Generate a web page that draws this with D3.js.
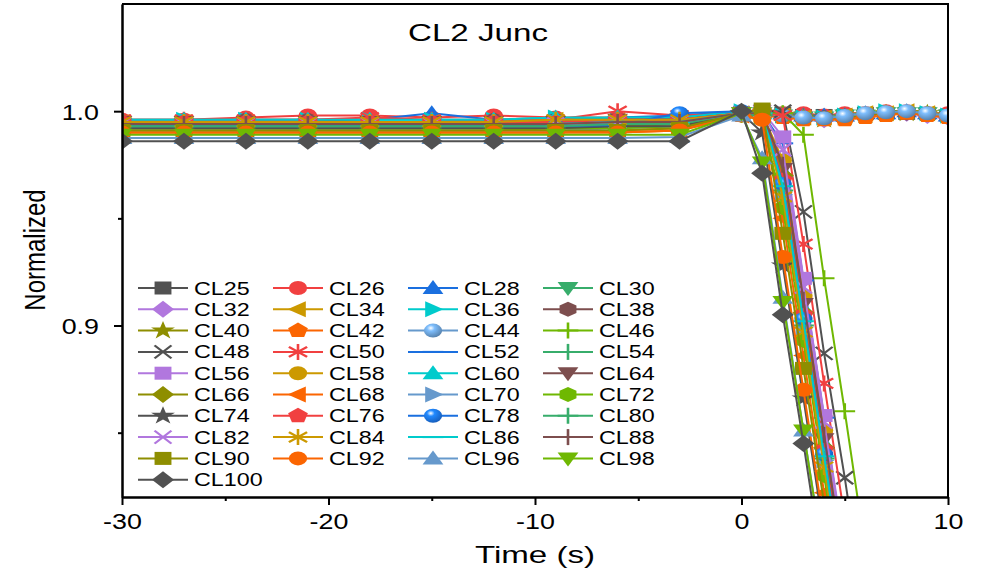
<!DOCTYPE html>
<html>
<head>
<meta charset="utf-8">
<script src="https://cdn.jsdelivr.net/npm/d3@7"></script>
<style>
body { margin: 0; background: #fff; }
text { font-family: "Liberation Sans", Arial, sans-serif; fill: #000; }
</style>
</head>
<body>
<script>
var width = 981,
	height = 575,
	stretch = 1.26;	// the original picture is widened horizontally

// time points (s)
var times = [-30, -27, -24, -21, -18, -15, -12, -9, -6, -3, 0, 1, 2, 3, 4, 5, 6, 7, 8, 9, 10];

var names = ["CL25", "CL26", "CL28", "CL30", "CL32", "CL34", "CL36", "CL38", "CL40", "CL42",
	"CL44", "CL46", "CL48", "CL50", "CL52", "CL54", "CL56", "CL58", "CL60", "CL64",
	"CL66", "CL68", "CL70", "CL72", "CL74", "CL76", "CL78", "CL80", "CL82", "CL84",
	"CL86", "CL88", "CL90", "CL92", "CL96", "CL98", "CL100"];

var palette = ["#515151", "#F14040", "#1A6FDF", "#37AD6B", "#B177DE", "#CC9900",
	"#00CBCC", "#7D4E4E", "#8E8E00", "#FB6501", "#6699CC", "#6FB802"];

var shapes = ["square", "circle", "up", "down", "diamond", "left", "right", "hexagon",
	"star", "pentagon", "sphere", "plus", "cross", "asterisk", "dash", "bar"];

// normalized values, one entry per time point (series that drop end below the axis)
var CL25 = [0.994, 0.994, 0.995, 0.994, 0.994, 0.994, 0.994, 0.994, 0.995, 0.996, 0.999, 0.999, 0.999, 0.998, 0.998, 0.998, 0.999, 0.999, 0.999, 0.999, 0.998];
var CL26 = [0.996, 0.996, 0.997, 0.998, 0.998, 0.997, 0.998, 0.997, 0.997, 0.997, 0.999, 1.000, 0.999, 0.999, 0.998, 0.999, 0.999, 1.000, 1.000, 0.999, 0.999];
var CL28 = [0.995, 0.995, 0.995, 0.996, 0.996, 0.999, 0.996, 0.996, 0.997, 0.998, 1.000, 1.000, 0.999, 0.998, 0.998, 0.998, 0.999, 0.999, 1.000, 0.999, 0.998];
var CL30 = [0.994, 0.994, 0.994, 0.994, 0.994, 0.995, 0.995, 0.995, 0.995, 0.996, 0.999, 0.999, 0.998, 0.997, 0.997, 0.998, 0.998, 0.999, 0.999, 0.999, 0.998];
var CL32 = [0.993, 0.993, 0.993, 0.993, 0.993, 0.993, 0.993, 0.994, 0.994, 0.995, 0.999, 0.999, 0.998, 0.997, 0.996, 0.997, 0.998, 0.999, 0.999, 0.998, 0.997];
var CL34 = [0.995, 0.995, 0.995, 0.995, 0.995, 0.995, 0.995, 0.996, 0.996, 0.996, 0.999, 0.999, 0.998, 0.997, 0.997, 0.998, 0.999, 0.999, 1.000, 0.999, 0.998];
var CL36 = [0.996, 0.996, 0.996, 0.996, 0.996, 0.996, 0.996, 0.997, 0.996, 0.997, 1.000, 0.999, 0.998, 0.997, 0.997, 0.998, 0.999, 1.000, 1.000, 0.999, 0.998];
var CL38 = [0.995, 0.995, 0.996, 0.996, 0.995, 0.995, 0.996, 0.996, 0.996, 0.997, 0.999, 0.999, 0.998, 0.997, 0.997, 0.997, 0.998, 0.999, 0.999, 0.999, 0.998];
var CL40 = [0.993, 0.993, 0.993, 0.993, 0.993, 0.993, 0.993, 0.993, 0.994, 0.995, 0.999, 0.999, 0.998, 0.997, 0.996, 0.997, 0.998, 0.999, 0.999, 0.999, 0.998];
var CL42 = [0.990, 0.990, 0.990, 0.990, 0.990, 0.990, 0.990, 0.990, 0.991, 0.992, 0.998, 0.998, 0.997, 0.996, 0.996, 0.996, 0.997, 0.998, 0.999, 0.998, 0.997];
var CL44 = [0.992, 0.992, 0.992, 0.992, 0.992, 0.992, 0.992, 0.992, 0.993, 0.994, 0.999, 0.999, 0.998, 0.997, 0.9967, 0.9977, 0.999, 0.9995, 1.000, 0.999, 0.998];
var CL46 = [0.993, 0.993, 0.993, 0.993, 0.994, 0.994, 0.994, 0.994, 0.994, 0.995, 0.999, 1.000, 0.999, 0.989, 0.922, 0.860, 0.795];
var CL48 = [0.992, 0.992, 0.992, 0.992, 0.992, 0.992, 0.993, 0.993, 0.993, 0.994, 0.999, 1.000, 1.000, 0.953, 0.887, 0.829, 0.765];
var CL50 = [0.996, 0.996, 0.996, 0.996, 0.997, 0.996, 0.996, 0.996, 1.000, 0.998, 0.999, 0.999, 0.998, 0.938, 0.873, 0.810];
var CL52 = [0.994, 0.994, 0.994, 0.994, 0.994, 0.995, 0.995, 0.995, 0.996, 0.997, 0.999, 0.999, 0.985, 0.921, 0.857, 0.793];
var CL54 = [0.993, 0.993, 0.993, 0.993, 0.993, 0.993, 0.994, 0.994, 0.994, 0.995, 0.999, 0.999, 0.975, 0.912, 0.848, 0.785];
var CL56 = [0.994, 0.994, 0.994, 0.994, 0.994, 0.994, 0.994, 0.995, 0.995, 0.996, 0.999, 1.000, 0.988, 0.922, 0.858, 0.795];
var CL58 = [0.994, 0.994, 0.994, 0.994, 0.994, 0.994, 0.994, 0.994, 0.995, 0.995, 0.999, 0.999, 0.977, 0.914, 0.851, 0.788];
var CL60 = [0.996, 0.996, 0.996, 0.996, 0.996, 0.996, 0.996, 0.997, 0.997, 0.997, 1.000, 0.999, 0.972, 0.908, 0.845, 0.782];
var CL64 = [0.995, 0.995, 0.995, 0.995, 0.995, 0.995, 0.995, 0.995, 0.996, 0.996, 0.999, 0.998, 0.973, 0.910, 0.847, 0.784];
var CL66 = [0.992, 0.992, 0.992, 0.992, 0.992, 0.992, 0.992, 0.992, 0.993, 0.994, 0.999, 0.999, 0.970, 0.906, 0.843, 0.780];
var CL68 = [0.990, 0.990, 0.990, 0.990, 0.990, 0.990, 0.990, 0.990, 0.990, 0.991, 0.998, 0.997, 0.950, 0.886, 0.822, 0.760];
var CL70 = [0.991, 0.991, 0.991, 0.991, 0.991, 0.991, 0.991, 0.991, 0.992, 0.993, 0.999, 0.999, 0.961, 0.899, 0.837, 0.775];
var CL72 = [0.991, 0.991, 0.991, 0.991, 0.991, 0.991, 0.991, 0.992, 0.992, 0.993, 0.998, 0.996, 0.955, 0.893, 0.830, 0.768];
var CL74 = [0.992, 0.992, 0.992, 0.992, 0.992, 0.992, 0.992, 0.992, 0.993, 0.993, 0.999, 0.990, 0.928, 0.866, 0.803];
var CL76 = [0.995, 0.995, 0.995, 0.995, 0.995, 0.995, 0.995, 0.995, 0.996, 0.996, 0.999, 0.999, 0.968, 0.905, 0.842, 0.780];
var CL78 = [0.993, 0.993, 0.993, 0.993, 0.993, 0.993, 0.993, 0.993, 0.9935, 0.999, 1.000, 0.999, 0.966, 0.903, 0.840, 0.778];
var CL80 = [0.993, 0.993, 0.993, 0.993, 0.993, 0.993, 0.993, 0.993, 0.994, 0.994, 0.999, 0.998, 0.963, 0.900, 0.838, 0.775];
var CL82 = [0.994, 0.994, 0.994, 0.994, 0.994, 0.994, 0.994, 0.994, 0.995, 0.995, 0.999, 1.000, 0.982, 0.918, 0.855, 0.792];
var CL84 = [0.995, 0.995, 0.995, 0.995, 0.995, 0.995, 0.995, 0.996, 0.996, 0.996, 0.999, 0.999, 0.960, 0.897, 0.834, 0.772];
var CL86 = [0.994, 0.994, 0.994, 0.994, 0.994, 0.994, 0.994, 0.994, 0.995, 0.995, 0.999, 0.999, 0.965, 0.902, 0.839, 0.777];
var CL88 = [0.994, 0.994, 0.994, 0.994, 0.994, 0.994, 0.994, 0.994, 0.995, 0.995, 0.999, 0.999, 0.975, 0.912, 0.849, 0.786];
var CL90 = [0.991, 0.991, 0.991, 0.991, 0.991, 0.991, 0.991, 0.991, 0.991, 0.992, 0.999, 1.001, 0.943, 0.880, 0.817];
var CL92 = [0.990, 0.990, 0.990, 0.990, 0.990, 0.990, 0.990, 0.990, 0.990, 0.991, 0.998, 0.996, 0.932, 0.870, 0.807];
var CL96 = [0.9875, 0.9875, 0.9875, 0.9875, 0.9875, 0.9875, 0.9875, 0.9875, 0.9875, 0.988, 0.998, 0.978, 0.913, 0.851, 0.790];
var CL98 = [0.989, 0.989, 0.989, 0.989, 0.989, 0.989, 0.989, 0.989, 0.989, 0.989, 0.999, 0.976, 0.911, 0.851, 0.789];
var CL100 = [0.986, 0.986, 0.986, 0.986, 0.986, 0.986, 0.986, 0.986, 0.986, 0.986, 1.000, 0.971, 0.905, 0.845, 0.782];

var seriesValues = [CL25, CL26, CL28, CL30, CL32, CL34, CL36, CL38, CL40, CL42,
	CL44, CL46, CL48, CL50, CL52, CL54, CL56, CL58, CL60, CL64,
	CL66, CL68, CL70, CL72, CL74, CL76, CL78, CL80, CL82, CL84,
	CL86, CL88, CL90, CL92, CL96, CL98, CL100];

var xTicks = [-30, -20, -10, 0, 10],
	xMinor = [-25, -15, -5, 5],
	yTicks = [0.9, 1.0],
	yMinor = [0.85, 0.95];

var series = names.map(function(n, i) {
	return {
		name: n,
		color: palette[i % palette.length],
		shape: shapes[i % shapes.length],
		points: seriesValues[i].map(function(v, j) { return [times[j], v]; })
	};
});

var svg = d3.select("body")
	.append("svg")
	.attr("width", width)
	.attr("height", height);

var x = d3.scaleLinear().domain([-30, 10]).range([122, 948]);
var y = d3.scaleLinear().domain([0.82, 1.05]).range([497, 4]);

var defs = svg.append("defs");
defs.append("clipPath").attr("id", "plot")
	.append("rect")
	.attr("x", x(-30)).attr("y", y(1.05))
	.attr("width", x(10) - x(-30)).attr("height", y(0.82) - y(1.05));

// shaded balls for the sphere symbol
palette.forEach(function(c, i) {
	var g = defs.append("radialGradient").attr("id", "ball" + i)
		.attr("cx", "38%").attr("cy", "32%").attr("r", "70%");
	g.append("stop").attr("offset", "0%").attr("stop-color", "#fff");
	g.append("stop").attr("offset", "30%").attr("stop-color", d3.color(c).brighter(0.6));
	g.append("stop").attr("offset", "100%").attr("stop-color", d3.color(c).darker(0.5));
});

function polygon(n, r, rot) {
	var p = [];
	for (var k = 0; k < n; k++) {
		var a = rot + k * 2 * Math.PI / n;
		p.push([r * Math.cos(a), r * Math.sin(a)]);
	}
	return "M" + p.join("L") + "Z";
}

function shapePath(s) {
	switch (s) {
		case "square": return "M-6.5,-6.5H6.5V6.5H-6.5Z";
		case "circle":
		case "sphere": return "M7,0A7,7 0 1,1 -7,0A7,7 0 1,1 7,0Z";
		case "up": return "M0,-8L8,6L-8,6Z";
		case "down": return "M0,8L8,-6L-8,-6Z";
		case "diamond": return "M0,-8.5L8.5,0L0,8.5L-8.5,0Z";
		case "left": return "M-8,0L6,-8L6,8Z";
		case "right": return "M8,0L-6,-8L-6,8Z";
		case "hexagon": return polygon(6, 7.5, Math.PI / 6);
		case "star": return d3.symbol(d3.symbolStar, 105)();
		case "pentagon": return polygon(5, 8, -Math.PI / 2);
		case "plus": return "M-8,0H8M0,-8V8";
		case "cross": return "M-6.5,-6.5L6.5,6.5M-6.5,6.5L6.5,-6.5";
		case "asterisk": return "M0,-8V8M-7,-5L7,5M-7,5L7,-5";
		case "dash": return "M-8,0H8";
		case "bar": return "M0,-8V8";
	}
}

var open = ["plus", "cross", "asterisk", "dash", "bar"];

function drawSymbol(g, d, cx, cy) {
	var i = palette.indexOf(d.color);
	var p = g.append("path")
		.attr("d", shapePath(d.shape))
		.attr("transform", "translate(" + cx + "," + cy + ") scale(1.3,1)");
	if (open.indexOf(d.shape) >= 0) {
		p.attr("fill", "none").attr("stroke", d.color).attr("stroke-width", 2);
	} else if (d.shape == "sphere") {
		p.attr("fill", "url(#ball" + i + ")");
	} else {
		p.attr("fill", d.color);
	}
}

function widen(sel, k) {
	sel.each(function() {
		var len = this.getComputedTextLength();
		d3.select(this).attr("textLength", len * k).attr("lengthAdjust", "spacingAndGlyphs");
	});
}

var line = d3.line()
	.x(function(d) { return x(d[0]); })
	.y(function(d) { return y(d[1]); });

var plot = svg.append("g").attr("clip-path", "url(#plot)");

series.forEach(function(s) {
	var g = plot.append("g");
	g.append("path")
		.attr("d", line(s.points))
		.attr("fill", "none")
		.attr("stroke", s.color)
		.attr("stroke-width", 2);
	s.points.forEach(function(p) {
		drawSymbol(g, s, x(p[0]), y(p[1]));
	});
});

// frame
svg.append("path")
	.attr("d", "M" + x(-30) + "," + y(1.05) + "H" + x(10) + "V" + y(0.82))
	.attr("fill", "none").attr("stroke", "#000").attr("stroke-width", 2);

// axes
var xAxis = svg.append("g").attr("transform", "translate(0," + y(0.82) + ")")
	.call(d3.axisBottom(x).tickValues(xTicks).tickSize(8).tickSizeOuter(0)
		.tickFormat(function(d) { return String(d); }));
svg.append("g").attr("transform", "translate(0," + y(0.82) + ")")
	.call(d3.axisBottom(x).tickValues(xMinor).tickSize(4).tickSizeOuter(0).tickFormat(""));
var yAxis = svg.append("g").attr("transform", "translate(" + x(-30) + ",0)")
	.call(d3.axisLeft(y).tickValues(yTicks).tickSize(8).tickSizeOuter(0).tickFormat(d3.format(".1f")));
svg.append("g").attr("transform", "translate(" + x(-30) + ",0)")
	.call(d3.axisLeft(y).tickValues(yMinor).tickSize(4).tickSizeOuter(0).tickFormat(""));

svg.selectAll(".domain, .tick line").attr("stroke", "#000").attr("stroke-width", 2);
svg.selectAll(".tick text").style("font-family", "'Liberation Sans', Arial, sans-serif")
	.attr("font-size", 22).attr("fill", "#000");
xAxis.selectAll(".tick text").attr("y", 16);
yAxis.selectAll(".tick text").attr("x", -23).attr("dy", "0.36em");
widen(svg.selectAll(".tick text"), 1.22);

// titles
svg.append("text")
	.attr("x", 478).attr("y", 41)
	.attr("text-anchor", "middle").attr("font-size", 24)
	.text("CL2 Junc")
	.call(widen, 1.38);

svg.append("text")
	.attr("x", 535).attr("y", 563)
	.attr("text-anchor", "middle").attr("font-size", 24)
	.text("Time (s)")
	.call(widen, 1.38);

svg.append("text")
	.attr("transform", "translate(45,250) scale(1.25,1) rotate(-90)")
	.attr("text-anchor", "middle").attr("font-size", 24)
	.text("Normalized");

// legend
var legend = svg.append("g");
series.forEach(function(s, i) {
	var lx = 138 + (i % 4) * 135,
		ly = 288 + Math.floor(i / 4) * 21.3;
	var g = legend.append("g");
	g.append("line")
		.attr("x1", lx).attr("x2", lx + 50)
		.attr("y1", ly).attr("y2", ly)
		.attr("stroke", s.color).attr("stroke-width", 2);
	drawSymbol(g, s, lx + 25, ly);
	g.append("text")
		.attr("x", lx + 56).attr("y", ly + 6.5)
		.attr("font-size", 18.5)
		.text(s.name)
		.call(widen, stretch);
});
</script>
</body>
</html>
